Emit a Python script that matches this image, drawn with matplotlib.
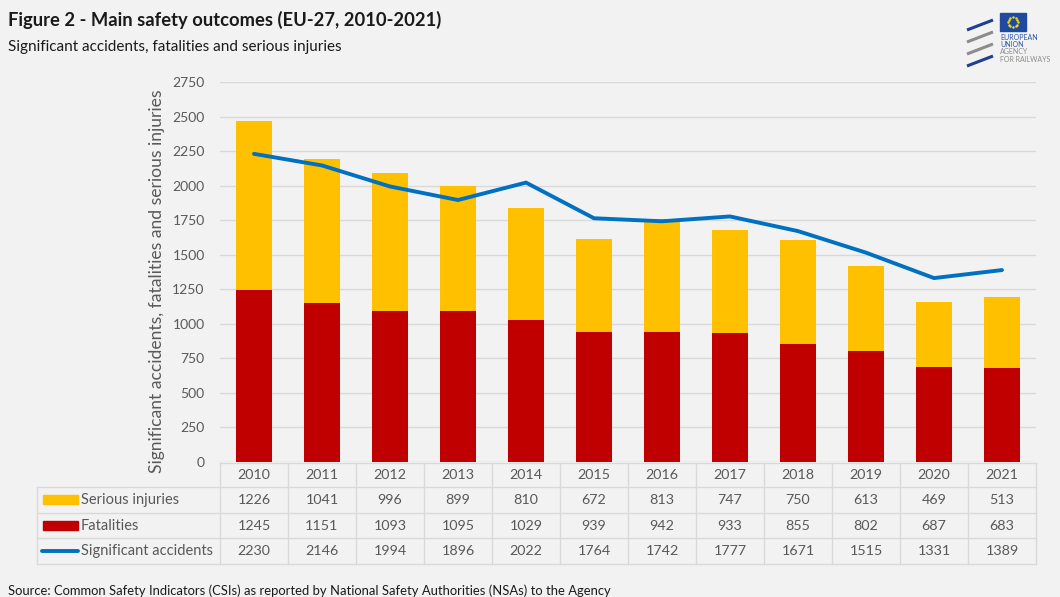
import numpy as np
import matplotlib
matplotlib.use('Agg')
import matplotlib.pyplot as plt
from matplotlib import transforms
from matplotlib.lines import Line2D
from matplotlib.patches import Rectangle

# data from the table under the chart
years = ['2010', '2011', '2012', '2013', '2014', '2015', '2016', '2017', '2018', '2019', '2020', '2021']
serious_injuries = [1226, 1041, 996, 899, 810, 672, 813, 747, 750, 613, 469, 513]
fatalities = [1245, 1151, 1093, 1095, 1029, 939, 942, 933, 855, 802, 687, 683]
significant_accidents = [2230, 2146, 1994, 1896, 2022, 1764, 1742, 1777, 1671, 1515, 1331, 1389]
series_names = ['Serious injuries', 'Fatalities', 'Significant accidents']

YELLOW = '#ffc000'
RED = '#c00000'
BLUE = '#0070c0'
BG = '#f2f2f2'
GRID = '#d9d9d9'
TXT = '#595959'

plt.rcParams['font.family'] = ['Lato', 'DejaVu Sans']

W, H = 1060, 597
fig = plt.figure(figsize=(W / 100, H / 100), dpi=100, facecolor=BG)


def fx(px):
    return px / W


def fy(py):
    return 1 - py / H


ax = fig.add_axes([fx(220), fy(462), fx(816), 380 / H])
ax.set_facecolor(BG)

x = np.arange(len(years))
ax.bar(x, fatalities, 0.52, color=RED, zorder=2)
ax.bar(x, serious_injuries, 0.52, bottom=fatalities, color=YELLOW, zorder=2)
ax.plot(x, significant_accidents, color=BLUE, lw=2.8, zorder=3, solid_capstyle='round')

ax.set_xlim(-0.5, len(years) - 0.5)
ax.set_ylim(0, 2750)
ax.set_yticks(range(0, 2751, 250))
ax.set_xticks([])
ax.grid(axis='y', color=GRID, lw=1)
ax.set_axisbelow(True)
for s in ax.spines.values():
    s.set_visible(False)
ax.tick_params(axis='y', length=0, pad=11, labelcolor=TXT, labelsize=10)

fig.text(fx(157), fy(281), 'Significant accidents, fatalities and serious injuries',
         rotation=90, ha='center', va='center', fontsize=12.6, color=TXT)

# data table under the axis
tr = transforms.blended_transform_factory(ax.transData, fig.transFigure)
rows_y = [463, 487, 513, 538, 564]
n = len(years)
for yy in rows_y:
    fig.add_artist(Line2D([-0.5, n - 0.5], [fy(yy), fy(yy)], transform=tr, color=GRID, lw=1))
for i in range(n + 1):
    fig.add_artist(Line2D([i - 0.5, i - 0.5], [fy(463), fy(564)], transform=tr, color=GRID, lw=1))
for yy in rows_y[1:]:
    fig.add_artist(Line2D([fx(37), fx(220)], [fy(yy), fy(yy)], transform=fig.transFigure, color=GRID, lw=1))
fig.add_artist(Line2D([fx(37), fx(37)], [fy(487), fy(564)], transform=fig.transFigure, color=GRID, lw=1))

for i, yr in enumerate(years):
    fig.text(i, fy(475), yr, transform=tr, ha='center', va='center', fontsize=10.3, color=TXT)

row_vals = [serious_injuries, fatalities, significant_accidents]
for r, vals in enumerate(row_vals):
    yc = (rows_y[r + 1] + rows_y[r + 2]) / 2
    for i, v in enumerate(vals):
        fig.text(i, fy(yc), str(v), transform=tr, ha='center', va='center', fontsize=10.3, color=TXT)
    fig.text(fx(81), fy(yc), series_names[r], ha='left', va='center', fontsize=10.5, color=TXT)

# legend keys
fig.add_artist(Rectangle((fx(43), fy(504)), fx(35), 9 / H, transform=fig.transFigure, color=YELLOW))
fig.add_artist(Rectangle((fx(43), fy(530)), fx(35), 9 / H, transform=fig.transFigure, color=RED))
fig.add_artist(Line2D([fx(42), fx(78)], [fy(551), fy(551)], transform=fig.transFigure, color=BLUE, lw=2.8,
                      solid_capstyle='round'))

# titles
fig.text(fx(8), fy(20), 'Figure 2 - Main safety outcomes (EU-27, 2010-2021)', fontsize=13.2,
         weight='bold', color='#1a1a1a', va='center')
fig.text(fx(8), fy(47), 'Significant accidents, fatalities and serious injuries', fontsize=11,
         color='#1a1a1a', va='center')
fig.text(fx(8), fy(591), 'Source: Common Safety Indicators (CSIs) as reported by National Safety Authorities (NSAs) to the Agency',
         fontsize=9.35, color='#1a1a1a', va='center')

# agency logo
stripe_cols = ['#1f3f8f', '#8c8c8c', '#8c8c8c', '#1f3f8f']
for k, c in enumerate(stripe_cols):
    y0 = 20 + k * 12
    fig.add_artist(Line2D([fx(967), fx(993)], [fy(y0 + 10), fy(y0)], transform=fig.transFigure,
                          color=c, lw=2.2, solid_capstyle='butt'))
fig.add_artist(Rectangle((fx(1000), fy(31)), fx(26), 18 / H, transform=fig.transFigure, color='#1f4aa0'))
ang = np.linspace(0, 2 * np.pi, 12, endpoint=False)
fig.add_artist(Line2D(fx(1013) + fx(5) * np.cos(ang), fy(22) + 5 / H * np.sin(ang), transform=fig.transFigure,
                      ls='none', marker='o', ms=0.8, color='#ffd700'))
for k, (t, c) in enumerate([('EUROPEAN', '#2f57a8'), ('UNION', '#2f57a8'),
                            ('AGENCY', '#8c8c8c'), ('FOR RAILWAYS', '#8c8c8c')]):
    fig.text(fx(1000), fy(37 + k * 7.5), t, fontsize=5, color=c, va='center')

fig.savefig('out.png', dpi=100, facecolor=BG)
